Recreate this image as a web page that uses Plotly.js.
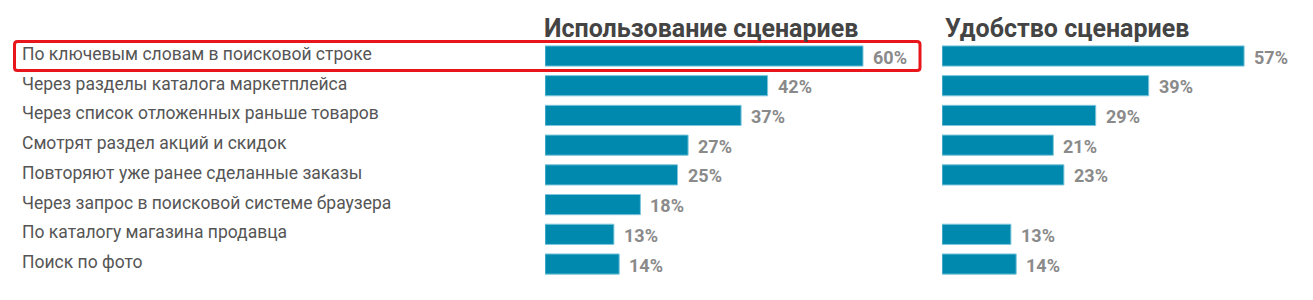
<!DOCTYPE html>
<html>
<head>
<meta charset="utf-8">
<script src="https://cdn.plot.ly/plotly-3.0.1.min.js"></script>
<style>html,body{margin:0;padding:0;background:#fff;}#chart{width:1313px;height:300px;}</style>
</head>
<body>
<div id="chart"></div>
<script>
const categories = [
  "По ключевым словам в поисковой строке",
  "Через разделы каталога маркетплейса",
  "Через список отложенных раньше товаров",
  "Смотрят раздел акций и скидок",
  "Повторяют уже ранее сделанные заказы",
  "Через запрос в поисковой системе браузера",
  "По каталогу магазина продавца",
  "Поиск по фото"
];
const usageValues = [60, 42, 37, 27, 25, 18, 13, 14];
const convenienceValues = [57, 39, 29, 21, 23, null, 13, 14];
const panelTitles = ["Использование сценариев", "Удобство сценариев"];

const W = 1313, H = 300;
const FONT = "Roboto, Arial, sans-serif";
const barColor = "#0089ae";
const pxPerPct = 5.3;
const d1 = [545 / W, 920 / W];
const d2 = [942 / W, 1];
const r1 = (920 - 545) / pxPerPct;
const r2 = (W - 942) / pxPerPct;
const rowStep = 29.72, row0 = 56;
const yRange = [(H - row0) / rowStep, -row0 / rowStep];

function barTrace(vals, xa, ya) {
  return {
    type: "bar", orientation: "h",
    x: vals, y: categories, xaxis: xa, yaxis: ya,
    width: 0.68,
    marker: {color: barColor, line: {color: "#7cc6dc", width: 1}},
    hoverinfo: "skip", showlegend: false
  };
}

const annotations = [];
categories.forEach((c, i) => {
  annotations.push({
    xref: "paper", yref: "y", x: 20 / W, y: c, xanchor: "left", yanchor: "middle",
    yshift: 2,
    text: c, showarrow: false, font: {family: FONT, size: 17.5, color: "#555"}
  });
});
function valueAnn(vals, xr, yr) {
  vals.forEach((v, i) => {
    if (v === null) return;
    annotations.push({
      xref: xr, yref: yr, x: v, y: categories[i], xanchor: "left", yanchor: "middle",
      xshift: 8, yshift: -1,
      text: v + "%", showarrow: false,
      font: {family: FONT, size: 18, color: "#8a8a8a", weight: "bold"}
    });
  });
}
valueAnn(usageValues, "x", "y");
valueAnn(convenienceValues, "x2", "y2");
[[panelTitles[0], 542], [panelTitles[1], 943]].forEach(([t, px]) => {
  annotations.push({
    xref: "paper", yref: "paper", x: px / W, y: 1 - 28 / H, xanchor: "left", yanchor: "middle",
    text: "<b>" + t + "</b>", showarrow: false,
    font: {family: FONT, size: 25, color: "#444"}
  });
});

function px2x(p) { return p / W; }
function px2y(p) { return 1 - p / H; }
const L = 14.5, R = 920, T = 41.5, B = 70.5, rad = 3;
const path = `M ${px2x(L + rad)} ${px2y(T)} L ${px2x(R - rad)} ${px2y(T)} Q ${px2x(R)} ${px2y(T)} ${px2x(R)} ${px2y(T + rad)} ` +
  `L ${px2x(R)} ${px2y(B - rad)} Q ${px2x(R)} ${px2y(B)} ${px2x(R - rad)} ${px2y(B)} ` +
  `L ${px2x(L + rad)} ${px2y(B)} Q ${px2x(L)} ${px2y(B)} ${px2x(L)} ${px2y(B - rad)} ` +
  `L ${px2x(L)} ${px2y(T + rad)} Q ${px2x(L)} ${px2y(T)} ${px2x(L + rad)} ${px2y(T)} Z`;

const axisCommon = {showgrid: false, zeroline: false, showticklabels: false, ticks: "", showline: false, fixedrange: true};
const layout = {
  width: W, height: H,
  margin: {l: 0, r: 0, t: 0, b: 0},
  paper_bgcolor: "#fff", plot_bgcolor: "rgba(0,0,0,0)",
  xaxis: Object.assign({domain: d1, range: [0, r1], anchor: "y"}, axisCommon),
  xaxis2: Object.assign({domain: d2, range: [0, r2], anchor: "y2"}, axisCommon),
  yaxis: Object.assign({domain: [0, 1], range: yRange, type: "category", categoryorder: "array", categoryarray: categories, anchor: "x"}, axisCommon),
  yaxis2: Object.assign({domain: [0, 1], range: yRange, type: "category", categoryorder: "array", categoryarray: categories, anchor: "x2"}, axisCommon),
  annotations: annotations,
  shapes: [{type: "path", xref: "paper", yref: "paper", path: path, line: {color: "#e8161b", width: 3}}],
  font: {family: FONT}
};
Plotly.newPlot("chart", [barTrace(usageValues, "x", "y"), barTrace(convenienceValues, "x2", "y2")], layout, {staticPlot: true});
</script>
</body>
</html>
